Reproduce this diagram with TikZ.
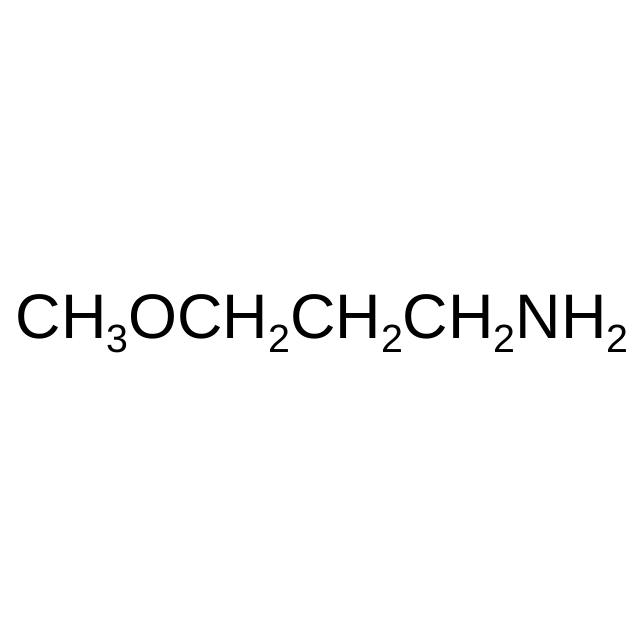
\documentclass[tikz,border=0pt]{standalone}
\usepackage{fontspec}
\setmainfont{Liberation Sans}
\usetikzlibrary{positioning}
\newcommand{\chemsub}[1]{\raisebox{-4pt}{\fontsize{11.2}{12}\selectfont #1}}
\tikzstyle{formula} = [inner sep=0pt, anchor=base west, font=\fontsize{17.9}{20}\selectfont]

\begin{document}
\begin{tikzpicture}
    \useasboundingbox[fill=white] (0,0) rectangle (6.4,6.4);
    % Formula
    \node[formula] (methoxypropylamine) at (0.15,3.02)
        {CH\chemsub{3}OCH\chemsub{2}CH\chemsub{2}CH\chemsub{2}NH\chemsub{2}};
\end{tikzpicture}
\end{document}
